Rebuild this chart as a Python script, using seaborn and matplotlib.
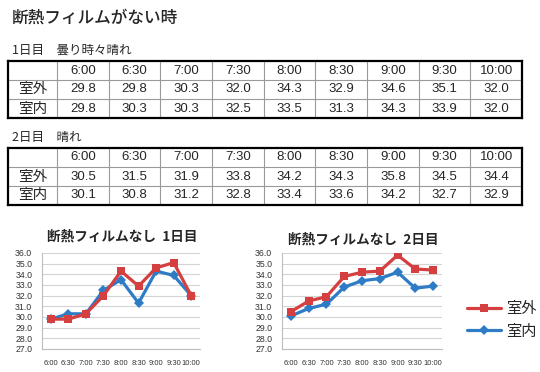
import numpy as np
import pandas as pd
import matplotlib
matplotlib.use("Agg")
import matplotlib.pyplot as plt
import seaborn as sns
from matplotlib.lines import Line2D

sns.set_theme(style="white")
plt.rcParams['font.family'] = ['Liberation Sans', 'Noto Sans CJK JP', 'DejaVu Sans']

# ---- data ----
times = ["6:00", "6:30", "7:00", "7:30", "8:00", "8:30", "9:00", "9:30", "10:00"]
series_names = ["室外", "室内"]
day1_out = [29.8, 29.8, 30.3, 32.0, 34.3, 32.9, 34.6, 35.1, 32.0]
day1_in = [29.8, 30.3, 30.3, 32.5, 33.5, 31.3, 34.3, 33.9, 32.0]
day2_out = [30.5, 31.5, 31.9, 33.8, 34.2, 34.3, 35.8, 34.5, 34.4]
day2_in = [30.1, 30.8, 31.2, 32.8, 33.4, 33.6, 34.2, 32.7, 32.9]
yticks = [27.0, 28.0, 29.0, 30.0, 31.0, 32.0, 33.0, 34.0, 35.0, 36.0]

main_title = "断熱フィルムがない時"
day1_heading = "1日目　曇り時々晴れ"
day2_heading = "2日目　晴れ"
chart1_title = "断熱フィルムなし  1日目"
chart2_title = "断熱フィルムなし  2日目"

RED = "#D63F3F"
BLUE = "#2E7CC6"
palette = {"室外": RED, "室内": BLUE}

W, H = 540, 372
fig = plt.figure(figsize=(W / 100, H / 100), dpi=100)
fig.patch.set_facecolor("white")


def rect(x0, y0, x1, y1):
    return [x0 / W, 1 - y1 / H, (x1 - x0) / W, (y1 - y0) / H]


def ftext(x, y, s, **kw):
    fig.text(x / W, 1 - y / H, s, **kw)


ftext(12, 18, main_title, fontsize=12, ha="left", va="center",
      family=['Noto Sans CJK JP'], fontweight="medium")
ftext(12, 50, day1_heading, fontsize=9, ha="left", va="center", family=['Noto Sans CJK JP'])
ftext(12, 138, day2_heading, fontsize=9, ha="left", va="center", family=['Noto Sans CJK JP'])


def draw_table(box, out_vals, in_vals):
    ax = fig.add_axes(rect(*box))
    first_w = 0.95
    edges = [0] + [first_w + i for i in range(len(times) + 1)]
    total = edges[-1]
    ax.set_xlim(0, total)
    ax.set_ylim(3, 0)
    ax.set_xticks([])
    ax.set_yticks([])
    for sp in ax.spines.values():
        sp.set_color("black")
        sp.set_linewidth(1.6)
    for e in edges[1:-1]:
        ax.axvline(e, color="#9A9A9A", lw=0.8)
    for r in (1, 2):
        ax.axhline(r, color="#9A9A9A", lw=0.8)
    centers = [(edges[i] + edges[i + 1]) / 2 for i in range(len(edges) - 1)]
    for i, t in enumerate(times):
        ax.text(centers[i + 1], 0.5, t, ha="center", va="center", fontsize=9.5)
    rows = [(series_names[0], out_vals), (series_names[1], in_vals)]
    for r, (name, vals) in enumerate(rows, start=1):
        ax.text(centers[0], r + 0.5, name, ha="center", va="center", fontsize=10.5,
                family=['Noto Sans CJK JP'])
        for i, v in enumerate(vals):
            ax.text(centers[i + 1], r + 0.5, f"{v:.1f}", ha="center", va="center", fontsize=9.5)


draw_table((8, 61, 522, 118), day1_out, day1_in)
draw_table((8, 148, 522, 205), day2_out, day2_in)


def draw_chart(box, out_vals, in_vals, title, title_xy):
    ax = fig.add_axes(rect(*box))
    df = pd.DataFrame({
        "idx": list(range(len(times))) * 2,
        "value": in_vals + out_vals,
        "series": ["室内"] * len(times) + ["室外"] * len(times),
    })
    sns.lineplot(data=df, x="idx", y="value", hue="series", style="series",
                 hue_order=["室内", "室外"], style_order=["室内", "室外"],
                 markers={"室外": "s", "室内": "D"}, dashes=False,
                 palette=palette, ax=ax, legend=False, lw=2.3,
                 markersize=6.3, markeredgewidth=0)
    for ln in ax.get_lines():
        if ln.get_marker() == "D":
            ln.set_markersize(4.6)
    ax.set_xlim(-0.5, len(times) - 0.5)
    ax.set_ylim(27, 36)
    ax.set_yticks(yticks)
    ax.set_yticklabels([f"{v:.1f}" for v in yticks], fontsize=6.3, color="#333333")
    ax.set_xticks(range(len(times)))
    ax.set_xticklabels(times, fontsize=5.5, color="#333333")
    ax.set_xlabel("")
    ax.set_ylabel("")
    ax.grid(axis="y", color="#D4D4D4", lw=0.8)
    ax.grid(axis="x", visible=False)
    ax.set_axisbelow(True)
    for s in ("top", "right"):
        ax.spines[s].set_visible(False)
    for s in ("left", "bottom"):
        ax.spines[s].set_color("#BDBDBD")
        ax.spines[s].set_linewidth(0.8)
    ax.tick_params(axis="y", length=0, pad=7)
    ax.tick_params(axis="x", length=0, pad=8)
    ftext(title_xy[0], title_xy[1], title, fontsize=9.8, ha="center", va="center",
          family=['Noto Sans CJK JP'], fontweight="bold")
    return ax


draw_chart((42, 253, 200, 349), day1_out, day1_in, chart1_title, (122, 237))
draw_chart((282, 253, 442, 349), day2_out, day2_in, chart2_title, (363, 240))

handles = [
    Line2D([0], [0], color=RED, lw=2.3, marker="s", markersize=6.3, markeredgewidth=0),
    Line2D([0], [0], color=BLUE, lw=2.3, marker="D", markersize=4.6, markeredgewidth=0),
]
fig.legend(handles, series_names, loc="center left", bbox_to_anchor=(467 / W, 1 - 320 / H),
           frameon=False, handlelength=2.2, labelspacing=0.35,
           handletextpad=0.35, borderpad=0, borderaxespad=0,
           prop={"family": ['Noto Sans CJK JP'], "size": 11})

fig.savefig("out.png", dpi=100, facecolor="white")
